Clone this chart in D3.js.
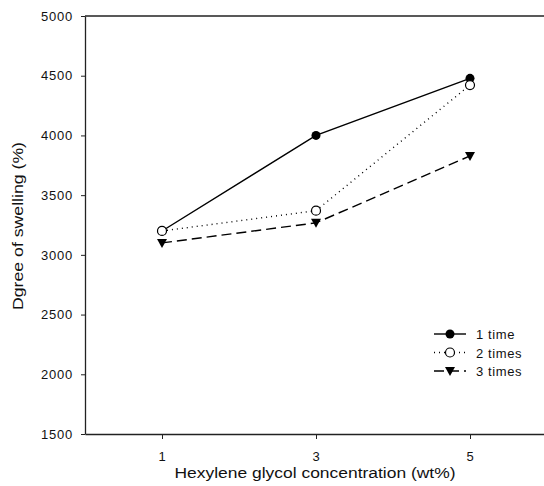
<!DOCTYPE html>
<html><head><meta charset="utf-8">
<script src="https://cdn.jsdelivr.net/npm/d3@7"></script>
<style>body{margin:0;background:#fff}svg{display:block}text{font-family:"Liberation Sans",Arial,sans-serif;fill:#111}</style>
</head><body><svg id="c" width="544" height="486"></svg>
<script>
const concentrations = [1, 3, 5];
const seriesNames = ["1 time", "2 times", "3 times"];
const once = [3200, 4000, 4478];
const twice = [3200, 3370, 4422];
const thrice = [3100, 3268, 3828];
const yTicks = [1500, 2000, 2500, 3000, 3500, 4000, 4500, 5000];
const xTicks = [1, 3, 5];

const svg = d3.select("#c");
const x = d3.scaleLinear().domain([0, 6]).range([85, 547]);
const y = d3.scaleLinear().domain([1500, 5000]).range([434, 16]);

const series = [
  {name: seriesNames[0], values: once, dash: null, marker: "filled"},
  {name: seriesNames[1], values: twice, dash: "1,4", marker: "open"},
  {name: seriesNames[2], values: thrice, dash: "10,5", marker: "tri"}
];

// axes
const yAxis = svg.append("g").attr("transform", "translate(85,0)")
  .call(d3.axisLeft(y).tickValues(yTicks).tickFormat(d3.format("d")).tickSize(4).tickSizeOuter(0).tickPadding(8));
const xAxis = svg.append("g").attr("transform", "translate(0,434)")
  .call(d3.axisBottom(x).tickValues(xTicks).tickFormat(d3.format("d")).tickSize(5).tickSizeOuter(0).tickPadding(13));
[yAxis, xAxis].forEach(a => {
  a.select(".domain").attr("stroke", "#222").attr("stroke-width", 1.3);
  a.selectAll(".tick line").attr("stroke", "#222");
  a.selectAll(".tick text").style("font-size", "13px").style("letter-spacing", "0.8px").attr("fill", "#111");
});
// top frame line
svg.append("line").attr("x1", 85).attr("x2", 544).attr("y1", y(5000)).attr("y2", y(5000))
  .attr("stroke", "#222").attr("stroke-width", 1.3);

// titles
svg.append("text").attr("x", 315).attr("y", 478).attr("text-anchor", "middle")
  .attr("textLength", 281).attr("lengthAdjust", "spacingAndGlyphs")
  .style("font-size", "14px").text("Hexylene glycol concentration (wt%)");
svg.append("text").attr("transform", "translate(23,226) rotate(-90)").attr("text-anchor", "middle")
  .attr("textLength", 168).attr("lengthAdjust", "spacingAndGlyphs")
  .style("font-size", "15px").text("Dgree of swelling (%)");

const line = d3.line().x((d, i) => x(concentrations[i])).y(d => y(d));

function drawMarker(g, type, cx, cy) {
  if (type === "filled") g.append("circle").attr("cx", cx).attr("cy", cy).attr("r", 4.5).attr("fill", "#000");
  else if (type === "open") g.append("circle").attr("cx", cx).attr("cy", cy).attr("r", 4.5).attr("fill", "#fff").attr("stroke", "#000").attr("stroke-width", 1.2);
  else g.append("path").attr("d", `M${cx-5},${cy-4}L${cx+5},${cy-4}L${cx},${cy+5}Z`).attr("fill", "#000");
}

series.forEach(s => {
  svg.append("path").datum(s.values).attr("d", line).attr("fill", "none")
    .attr("stroke", "#000").attr("stroke-width", 1.4)
    .attr("stroke-dasharray", s.dash);
});
series.forEach(s => {
  const g = svg.append("g");
  s.values.forEach((v, i) => drawMarker(g, s.marker, x(concentrations[i]), y(v)));
});

// legend
series.forEach((s, i) => {
  const ly = 334 + i * 18.5;
  svg.append("line").attr("x1", 434).attr("x2", 466).attr("y1", ly).attr("y2", ly)
    .attr("stroke", "#000").attr("stroke-width", 1.4).attr("stroke-dasharray", s.dash);
  drawMarker(svg.append("g"), s.marker, 450, ly);
  svg.append("text").attr("x", 476).attr("y", ly + 5).style("font-size", "13px").style("letter-spacing", "0.6px").text(s.name);
});
</script></body></html>
